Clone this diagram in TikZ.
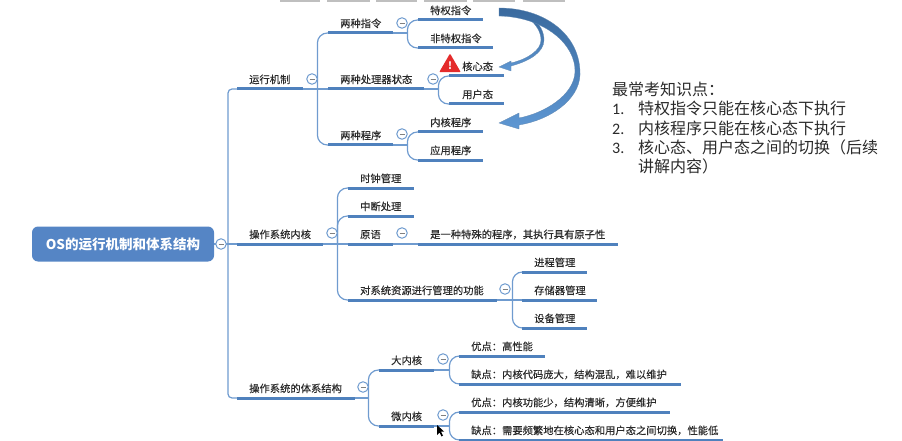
\documentclass[tikz,border=0pt]{standalone}
\usepackage{fontspec}
\setmainfont{Noto Sans CJK SC}
\newfontfamily\labelfont[FakeBold=0.2]{Noto Sans CJK SC}
\newfontfamily\numfont{Carlito}
\definecolor{rootblue}{HTML}{5585C5}
\definecolor{barblue}{HTML}{4F81BD}
\definecolor{linkblue}{HTML}{6F9BCF}
\definecolor{inkgray}{HTML}{2A2A2A}
\definecolor{alertred}{HTML}{E42B2B}
\definecolor{arrowdark}{HTML}{3A6A9E}
\definecolor{arrowlight}{HTML}{5E97D3}
\newcommand{\foldmark}{\rule{5pt}{0.9pt}}
\usetikzlibrary{shapes.geometric}

\begin{document}
\begin{tikzpicture}[x=1pt, y=-1pt,
  rootnode/.style={fill=rootblue, rounded corners=6pt, minimum width=182pt, minimum height=35pt, inner sep=0pt, text=white, font=\fontsize{13.5}{15}\selectfont\bfseries},
  topic/.style={anchor=south west, inner xsep=0pt, inner ysep=5.5pt, text width=#1pt, text height=8pt, text depth=0pt, align=left, text=inkgray, font=\labelfont\fontsize{10.3}{12}\selectfont, execute at begin node=\hspace*{12pt}},
  bar/.style={barblue, line width=3pt},
  link/.style={linkblue, line width=1.2pt},
  fork/.style={link, rounded corners=10pt},
  fold/.style={circle, draw=linkblue, fill=white, line width=1pt, minimum size=10.5pt, inner sep=0pt, text=gray},
  tabbar/.style={fill=black!25},
  warn/.style={regular polygon, regular polygon sides=3, minimum size=25pt, inner sep=0pt, fill=alertred, rounded corners=1pt, text=white, font=\fontsize{10}{10}\selectfont\bfseries},
  sweep/.style={top color=arrowdark, bottom color=arrowlight, draw=arrowdark!80, line width=0.3pt}
]
\useasboundingbox (0,0) rectangle (902,441);
\foreach \a/\b in {280/320, 327/370, 376/417, 424/467, 473/515, 523/565} \fill[tabbar] (\a,0) rectangle (\b,2.5);

\node[rootnode] (root) at (123,244) {OS的运行机制和体系结构};

\node[topic=66] (mech) at (237,89) {运行机制};
\node[topic=65] (cmds) at (328,33) {两种指令};
\node[topic=65] (priv) at (418,20) {特权指令};
\node[topic=75] (nonpriv) at (418,48) {非特权指令};
\node[topic=96] (states) at (328,89) {两种处理器状态};
\node[topic=55] (kmode) at (449,76) {\hspace*{1pt}核心态};
\node[topic=55] (umode) at (449,104) {\hspace*{1pt}用户态};
\node[topic=65] (progs) at (328,145) {两种程序};
\node[topic=65] (kprog) at (418,132) {内核程序};
\node[topic=65] (aprog) at (418,160) {应用程序};

\node[topic=86] (kernel) at (237,244) {操作系统内核};
\node[topic=66] (clock) at (348,188) {时钟管理};
\node[topic=66] (intr) at (348,216) {中断处理};
\node[topic=45] (prim) at (348,244) {原语};
\node[topic=200] (primdef) at (418,244) {是一种特殊的程序，其执行具有原子性};
\node[topic=149] (manage) at (348,300) {对系统资源进行管理的功能};
\node[topic=65] (proc) at (522,272) {进程管理};
\node[topic=75] (store) at (522,300) {存储器管理};
\node[topic=65] (dev) at (522,328) {设备管理};

\node[topic=118] (arch) at (237,398) {操作系统的体系结构};
\node[topic=55] (mono) at (379,370) {大内核};
\node[topic=55] (micro) at (379,426) {微内核};
\node[topic=86] (monopro) at (459,356) {优点：高性能};
\node[topic=222] (monocon) at (459,384) {缺点：内核代码庞大，结构混乱，难以维护};
\node[topic=211] (micropro) at (459,412) {优点：内核功能少，结构清晰，方便维护};
\node[topic=264] (microcon) at (459,440) {缺点：需要频繁地在核心态和用户态之间切换，性能低};

\node[anchor=north west, inner sep=0pt, text width=285pt, align=left, text=inkgray, font=\fontsize{16}{19.3}\selectfont] (notes) at (612,82) {最常考知识点：\\
\makebox[26pt][l]{\numfont 1.}特权指令只能在核心态下执行\\
\makebox[26pt][l]{\numfont 2.}内核程序只能在核心态下执行\\
\makebox[26pt][l]{\numfont 3.}核心态、用户态之间的切换（后续\\
\hspace*{26pt}讲解内容）};

\draw[link] (root.east) -- (kernel.south west);
\coordinate (ftrunk) at (228,244);
\draw[link, rounded corners=4pt] (ftrunk) |- (mech.south west);
\draw[link, rounded corners=4pt] (ftrunk) |- (arch.south west);

\draw[link] (mech.south east) -- (states.south west);
\coordinate (fmech) at ([xshift=14pt]mech.south east);
\draw[fork] (fmech) |- (cmds.south west);
\draw[fork] (fmech) |- (progs.south west);
\draw[link] (cmds.south east) -- ++(14,0) coordinate (fcmds);
\draw[fork] (fcmds) |- (priv.south west);
\draw[fork] (fcmds) |- (nonpriv.south west);
\draw[link] (states.south east) -- ++(14,0) coordinate (fstates);
\draw[fork] (fstates) |- (kmode.south west);
\draw[fork] (fstates) |- (umode.south west);
\draw[link] (progs.south east) -- ++(14,0) coordinate (fprogs);
\draw[fork] (fprogs) |- (kprog.south west);
\draw[fork] (fprogs) |- (aprog.south west);

\draw[link] (kernel.south east) -- (prim.south west);
\coordinate (fkernel) at ([xshift=14pt]kernel.south east);
\draw[fork] (fkernel) |- (clock.south west);
\draw[fork] (fkernel) |- (intr.south west);
\draw[fork] (fkernel) |- (manage.south west);
\draw[link] (prim.south east) -- (primdef.south west);
\draw[link] (manage.south east) -- (store.south west);
\coordinate (fmanage) at ([xshift=15pt]manage.south east);
\draw[fork] (fmanage) |- (proc.south west);
\draw[fork] (fmanage) |- (dev.south west);

\draw[link] (arch.south east) -- ++(13,0) coordinate (farch);
\draw[fork] (farch) |- (mono.south west);
\draw[fork] (farch) |- (micro.south west);
\draw[link] (mono.south east) -- ++(15,0) coordinate (fmono);
\draw[fork] (fmono) |- (monopro.south west);
\draw[fork] (fmono) |- (monocon.south west);
\draw[link] (micro.south east) -- ++(15,0) coordinate (fmicro);
\draw[fork] (fmicro) |- (micropro.south west);
\draw[fork] (fmicro) |- (microcon.south west);

\foreach \n in {mech, cmds, priv, nonpriv, states, kmode, umode, progs, kprog, aprog, kernel, clock, intr, prim, primdef, manage, proc, store, dev, arch, mono, micro, monopro, monocon, micropro, microcon}
  \draw[bar] (\n.south west) -- (\n.south east);

\node[fold] (froot) at (221,244) {\foldmark};
\node[fold] (fm) at (312,79) {\foldmark};
\node[fold] (fc) at (402,23) {\foldmark};
\node[fold] (fs) at (433,79) {\foldmark};
\node[fold] (fp) at (402,134) {\foldmark};
\node[fold] (fk) at (332,233) {\foldmark};
\node[fold] (fr) at (402,233) {\foldmark};
\node[fold] (fg) at (505,289) {\foldmark};
\node[fold] (fa) at (363,387) {\foldmark};
\node[fold] (fb) at (443,359) {\foldmark};
\node[fold] (fw) at (443,415) {\foldmark};

\node[warn] (alert) at (450,66) {!};

\path[sweep] (532,18) .. controls (540,24) and (544,32) .. (544,40) .. controls (544,52) and (530,61) .. (511,66) -- (511,71) -- (499,67) -- (511,61) -- (511,63) .. controls (528,59) and (541,50) .. (541,40) .. controls (541,32) and (536,24) .. (528,18) -- cycle;
\path[sweep] (499,8) .. controls (545,8) and (581,35) .. (580,75) .. controls (579,100) and (550,120) .. (519,125) -- (519,129) -- (499,123) -- (519,113) -- (519,118) .. controls (545,113) and (574,95) .. (575,72) .. controls (576,45) and (545,17) .. (499,16) -- cycle;

\fill[black] (437,425) -- (437,435) -- (439.5,432.5) -- (441.5,436.5) -- (443,435.5) -- (441,431.7) -- (444,431.5) -- cycle;
\end{tikzpicture}
\end{document}
